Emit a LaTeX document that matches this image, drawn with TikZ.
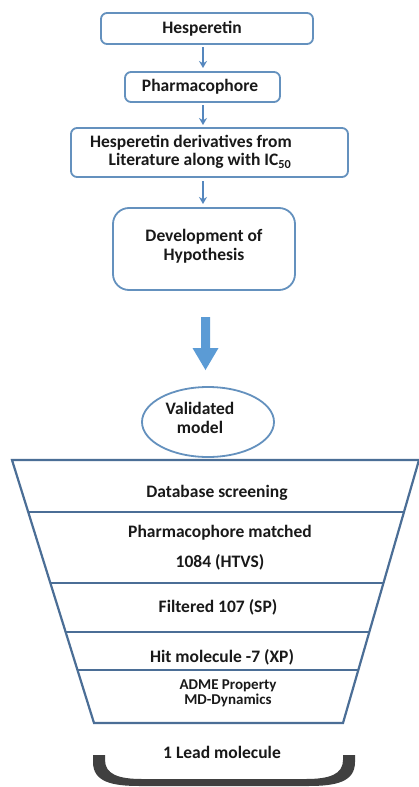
\documentclass[tikz,border=0pt]{standalone}
\usepackage{fontspec}
\setmainfont{Carlito}
\usetikzlibrary{arrows.meta,calc,shapes.geometric}
\definecolor{boxblue}{RGB}{100,145,190}
\definecolor{arrblue}{RGB}{85,135,190}
\definecolor{bigblue}{RGB}{91,155,213}
\definecolor{funnelc}{RGB}{75,110,150}
\definecolor{txt}{RGB}{25,25,25}
\definecolor{brk}{RGB}{64,64,64}
\begin{document}
\begin{tikzpicture}[x=1pt,y=-1pt,
  flowbox/.style={draw=boxblue,line width=1.8pt,rounded corners=6pt,fill=white},
  lbl/.style={text=txt,font=\fontsize{17.5}{18.5}\selectfont\bfseries,inner sep=0pt,align=center},
  slbl/.style={text=txt,font=\fontsize{15}{15.5}\selectfont\bfseries,inner sep=0pt,align=center},
  smallarr/.style={draw=arrblue,line width=2pt,-{Stealth[length=7pt,width=8pt]}},
  fline/.style={draw=funnelc,line width=2.2pt}]
\useasboundingbox (0,0) rectangle (418,787);
\fill[white] (0,0) rectangle (418,787);

% top boxes
\draw[flowbox] (101,13) rectangle (313,44);
\node[lbl] (t1) at (202,29) {Hesperetin};
\draw[flowbox] (125,72) rectangle (280,102);
\node[lbl] (t2) at (200,87) {Pharmacophore};
\draw[flowbox] (71,128) rectangle (348,177);
\node[lbl] (t3a) at (191,143) {Hesperetin derivatives from};
\node[lbl] (t3b) at (200,161) {Literature along with IC\textsubscript{50}};
\draw[flowbox,rounded corners=16pt] (113,208) rectangle (295,290);
\node[lbl] (t4) at (204,246) {Development of\\Hypothesis};

\coordinate (a1s) at (203,47);
\coordinate (a1e) at (203,68);
\coordinate (a2s) at (203,105);
\coordinate (a2e) at (203,125);
\coordinate (a3s) at (203,181);
\coordinate (a3e) at (203,204);
\draw[smallarr] (a1s) -- (a1e);
\draw[smallarr] (a2s) -- (a2e);
\draw[smallarr] (a3s) -- (a3e);

% big arrow
\fill[bigblue] (201,317) -- (210,317) -- (210,348) -- (218.5,348) -- (205.5,370) -- (192.5,348) -- (201,348) -- cycle;

% ellipse
\node[draw=boxblue,line width=1.8pt,ellipse,minimum width=132pt,minimum height=70pt,inner sep=0pt] (val) at (208,422) {};
\node[lbl] (valt) at (200,418) {Validated\\model};

% funnel
\coordinate (tl) at (12,460);
\coordinate (tr) at (419,460);
\coordinate (br) at (343,723);
\coordinate (bl) at (94,723);
\draw[fline,line join=miter] (tl) -- (tr) -- (br) -- (bl) -- cycle;
\foreach \t in {0.1977,0.4677,0.654,0.7985}{
  \draw[fline] ($(tl)!\t!(bl)$) -- ($(tr)!\t!(br)$);
}
\node[lbl] (f1) at (217,493) {Database screening};
\node[lbl] (f2) at (220,533) {Pharmacophore matched};
\node[lbl] (f3) at (220,562) {1084 (HTVS)};
\node[lbl] (f4) at (218,607) {Filtered 107 (SP)};
\node[lbl] (f5) at (222,657) {Hit molecule -7 (XP)};
\node[slbl] (f6) at (228,693.5) {ADME Property\\MD-Dynamics};
\node[lbl] (lead) at (222,752) {1 Lead molecule};

% bracket
\fill[brk] (93,755) -- (93,762) .. controls (93,782) and (112,786) .. (140,786) -- (308,786) .. controls (336,786) and (355,782) .. (355,762) -- (355,755) -- (343,755) -- (343,760) .. controls (343,774) and (330,779) .. (306,779) -- (142,779) .. controls (118,779) and (105,774) .. (105,760) -- (105,755) -- cycle;
\end{tikzpicture}
\end{document}
